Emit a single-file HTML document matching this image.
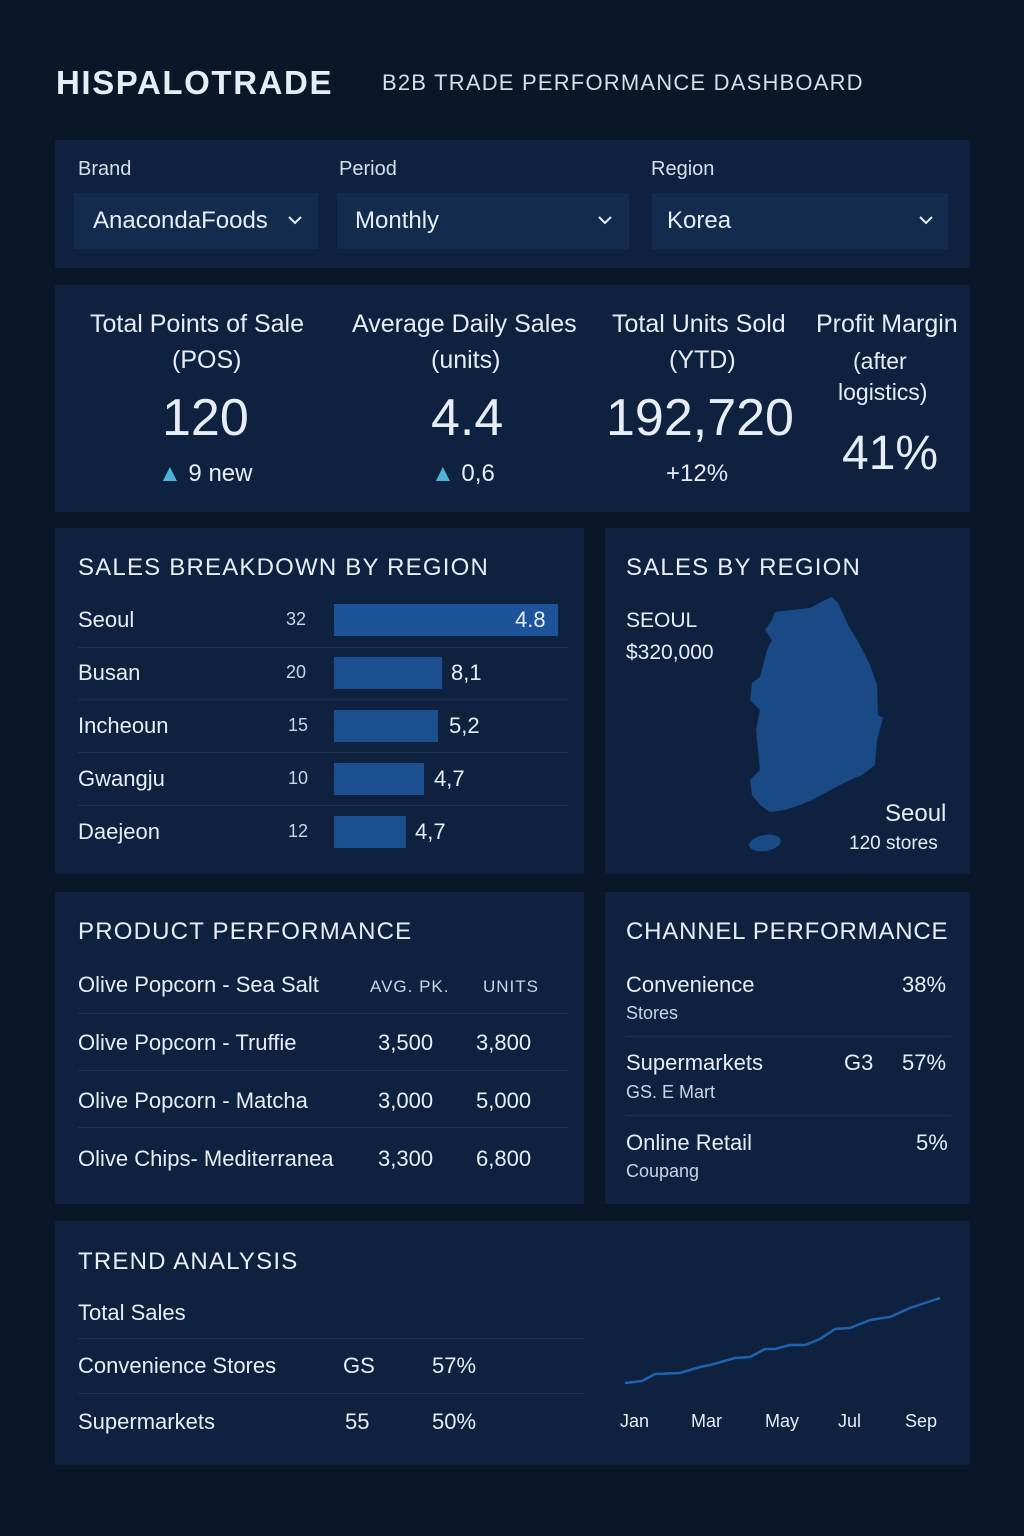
<!DOCTYPE html>
<html><head><meta charset="utf-8"><style>
*{margin:0;padding:0;box-sizing:border-box}
body{width:1024px;height:1536px;background:#0a1729;font-family:"Liberation Sans",sans-serif;color:#e6edf5;position:relative;overflow:hidden}
.a{position:absolute;white-space:nowrap}
.p{position:absolute;background:#0e2240}
.h{font-size:24px;letter-spacing:1.2px;color:#e8eef6}
.t{font-size:22px}
.s{font-size:18px;color:#c9d5e3}
.dd{position:absolute;background:#132b4d;height:56px;top:193px}
.sep{position:absolute;height:1px;background:#1a3152}
.bar{position:absolute;background:#1b4f8f;height:32px}
</style></head><body>
<div class="a" style="left:56px;top:64px;font-size:33px;font-weight:bold;letter-spacing:1.6px">HISPALOTRADE</div>
<div class="a" style="left:382px;top:70px;font-size:22px;letter-spacing:1.2px;color:#d6dfea">B2B TRADE PERFORMANCE DASHBOARD</div>

<div class="p" style="left:55px;top:140px;width:915px;height:128px"></div>
<div class="a t" style="left:78px;top:158px;font-size:20px;color:#d6dfea">Brand</div>
<div class="a t" style="left:339px;top:158px;font-size:20px;color:#d6dfea">Period</div>
<div class="a t" style="left:651px;top:158px;font-size:20px;color:#d6dfea">Region</div>
<div class="dd" style="left:74px;width:244px"></div>
<div class="dd" style="left:337px;width:292px"></div>
<div class="dd" style="left:652px;width:296px"></div>
<div class="a" style="left:93px;top:207px;font-size:24px">AnacondaFoods</div>
<div class="a" style="left:355px;top:207px;font-size:24px">Monthly</div>
<div class="a" style="left:667px;top:207px;font-size:24px">Korea</div>
<svg class="a" style="left:0;top:0" width="1024" height="260"><g fill="none" stroke="#e6edf5" stroke-width="2"><path d="M289 217l6 6 6-6"/><path d="M599 217l6 6 6-6"/><path d="M920 217l6 6 6-6"/></g></svg>

<div class="p" style="left:55px;top:285px;width:915px;height:227px"></div>
<div class="a" style="left:90px;top:310px;font-size:25px">Total Points of Sale</div>
<div class="a" style="left:172px;top:346px;font-size:25px">(POS)</div>
<div class="a" style="left:162px;top:388px;font-size:52px">120</div>
<div class="a" style="left:158px;top:460px;font-size:24px"><span style="color:#4fb3d9">▲</span> 9 new</div>
<div class="a" style="left:352px;top:310px;font-size:25px">Average Daily Sales</div>
<div class="a" style="left:431px;top:346px;font-size:25px">(units)</div>
<div class="a" style="left:431px;top:388px;font-size:52px">4.4</div>
<div class="a" style="left:431px;top:460px;font-size:24px"><span style="color:#4fb3d9">▲</span> 0,6</div>
<div class="a" style="left:612px;top:310px;font-size:25px">Total Units Sold</div>
<div class="a" style="left:669px;top:346px;font-size:25px">(YTD)</div>
<div class="a" style="left:606px;top:388px;font-size:52px">192,720</div>
<div class="a" style="left:666px;top:460px;font-size:24px">+12%</div>
<div class="a" style="left:816px;top:310px;font-size:25px">Profit Margin</div>
<div class="a" style="left:853px;top:348px;font-size:23px">(after</div>
<div class="a" style="left:838px;top:379px;font-size:23px">logistics)</div>
<div class="a" style="left:842px;top:426px;font-size:48px">41%</div>

<div class="p" style="left:55px;top:528px;width:529px;height:346px"></div>
<div class="a h" style="left:78px;top:554px">SALES BREAKDOWN BY REGION</div>
<div class="a t" style="left:78px;top:607px">Seoul</div><div class="a s" style="left:286px;top:609px">32</div>
<div class="bar" style="left:334px;top:604px;width:224px;background:#1d5399"></div><div class="a t" style="left:515px;top:607px">4.8</div>
<div class="sep" style="left:78px;top:647px;width:490px"></div>
<div class="a t" style="left:78px;top:660px">Busan</div><div class="a s" style="left:286px;top:662px">20</div>
<div class="bar" style="left:334px;top:657px;width:108px"></div><div class="a t" style="left:451px;top:660px">8,1</div>
<div class="sep" style="left:78px;top:699px;width:490px"></div>
<div class="a t" style="left:78px;top:713px">Incheoun</div><div class="a s" style="left:288px;top:715px">15</div>
<div class="bar" style="left:334px;top:710px;width:104px"></div><div class="a t" style="left:449px;top:713px">5,2</div>
<div class="sep" style="left:78px;top:752px;width:490px"></div>
<div class="a t" style="left:78px;top:766px">Gwangju</div><div class="a s" style="left:288px;top:768px">10</div>
<div class="bar" style="left:334px;top:763px;width:90px"></div><div class="a t" style="left:434px;top:766px">4,7</div>
<div class="sep" style="left:78px;top:805px;width:490px"></div>
<div class="a t" style="left:78px;top:819px">Daejeon</div><div class="a s" style="left:288px;top:821px">12</div>
<div class="bar" style="left:334px;top:816px;width:72px"></div><div class="a t" style="left:415px;top:819px">4,7</div>

<div class="p" style="left:605px;top:528px;width:365px;height:346px"></div>
<div class="a h" style="left:626px;top:554px">SALES BY REGION</div>
<div class="a t" style="left:626px;top:609px;font-size:21px">SEOUL</div>
<div class="a t" style="left:626px;top:641px;font-size:21px">$320,000</div>
<svg class="a" style="left:0;top:0" width="1024" height="900"><path fill="#1a4a86" d="M832 597L838 603 848 625 860 645 870 665 877 685 878 715 883 718 877 740 875 765 862 775 850 780 840 785 825 793 812 800 800 805 785 810 770 812 760 805 752 795 750 780 760 770 758 750 756 730 760 710 750 700 752 683 760 677 767 650 772 640 765 630 772 620 775 612 792 610 810 608 825 600z"/><ellipse cx="765" cy="843" rx="16" ry="8" fill="#1a4a86" transform="rotate(-10 765 843)"/></svg>
<div class="a" style="left:885px;top:800px;font-size:24px">Seoul</div>
<div class="a" style="left:849px;top:833px;font-size:19px">120 stores</div>

<div class="p" style="left:55px;top:892px;width:529px;height:312px"></div>
<div class="a h" style="left:78px;top:918px">PRODUCT PERFORMANCE</div>
<div class="a t" style="left:78px;top:972px">Olive Popcorn - Sea Salt</div>
<div class="a" style="left:370px;top:977px;font-size:17px;letter-spacing:1px;color:#c9d5e3">AVG. PK.</div>
<div class="a" style="left:483px;top:977px;font-size:17px;letter-spacing:1px;color:#c9d5e3">UNITS</div>
<div class="sep" style="left:78px;top:1013px;width:490px"></div>
<div class="a t" style="left:78px;top:1030px">Olive Popcorn - Truffie</div><div class="a t" style="left:378px;top:1030px">3,500</div><div class="a t" style="left:476px;top:1030px">3,800</div>
<div class="sep" style="left:78px;top:1070px;width:490px"></div>
<div class="a t" style="left:78px;top:1088px">Olive Popcorn - Matcha</div><div class="a t" style="left:378px;top:1088px">3,000</div><div class="a t" style="left:476px;top:1088px">5,000</div>
<div class="sep" style="left:78px;top:1127px;width:490px"></div>
<div class="a t" style="left:78px;top:1146px">Olive Chips- Mediterranea</div><div class="a t" style="left:378px;top:1146px">3,300</div><div class="a t" style="left:476px;top:1146px">6,800</div>

<div class="p" style="left:605px;top:892px;width:365px;height:312px"></div>
<div class="a h" style="left:626px;top:918px;letter-spacing:0.8px">CHANNEL PERFORMANCE</div>
<div class="a t" style="left:626px;top:972px">Convenience</div><div class="a t" style="left:902px;top:972px">38%</div>
<div class="a s" style="left:626px;top:1003px">Stores</div>
<div class="sep" style="left:626px;top:1036px;width:325px"></div>
<div class="a t" style="left:626px;top:1050px">Supermarkets</div><div class="a t" style="left:844px;top:1050px">G3</div><div class="a t" style="left:902px;top:1050px">57%</div>
<div class="a s" style="left:626px;top:1082px">GS. E Mart</div>
<div class="sep" style="left:626px;top:1115px;width:325px"></div>
<div class="a t" style="left:626px;top:1130px">Online Retail</div><div class="a t" style="left:916px;top:1130px">5%</div>
<div class="a s" style="left:626px;top:1161px">Coupang</div>

<div class="p" style="left:55px;top:1221px;width:915px;height:244px"></div>
<div class="a h" style="left:78px;top:1248px">TREND ANALYSIS</div>
<div class="a t" style="left:78px;top:1300px">Total Sales</div>
<div class="sep" style="left:78px;top:1338px;width:505px"></div>
<div class="a t" style="left:78px;top:1353px">Convenience Stores</div><div class="a t" style="left:343px;top:1353px">GS</div><div class="a t" style="left:432px;top:1353px">57%</div>
<div class="sep" style="left:78px;top:1393px;width:505px"></div>
<div class="a t" style="left:78px;top:1409px">Supermarkets</div><div class="a t" style="left:345px;top:1409px">55</div><div class="a t" style="left:432px;top:1409px">50%</div>
<svg class="a" style="left:0;top:0" width="1024" height="1536"><polyline fill="none" stroke="#1e63b0" stroke-width="2.5" stroke-linejoin="round" points="625,1383 642,1381 655,1374 680,1373 700,1367 710,1365 735,1358 750,1357 765,1349 775,1349 790,1345 805,1345 820,1339 835,1329 850,1328 870,1320 890,1317 910,1308 940,1298"/></svg>
<div class="a" style="left:620px;top:1411px;font-size:18px">Jan</div>
<div class="a" style="left:691px;top:1411px;font-size:18px">Mar</div>
<div class="a" style="left:765px;top:1411px;font-size:18px">May</div>
<div class="a" style="left:838px;top:1411px;font-size:18px">Jul</div>
<div class="a" style="left:905px;top:1411px;font-size:18px">Sep</div>
</body></html>
